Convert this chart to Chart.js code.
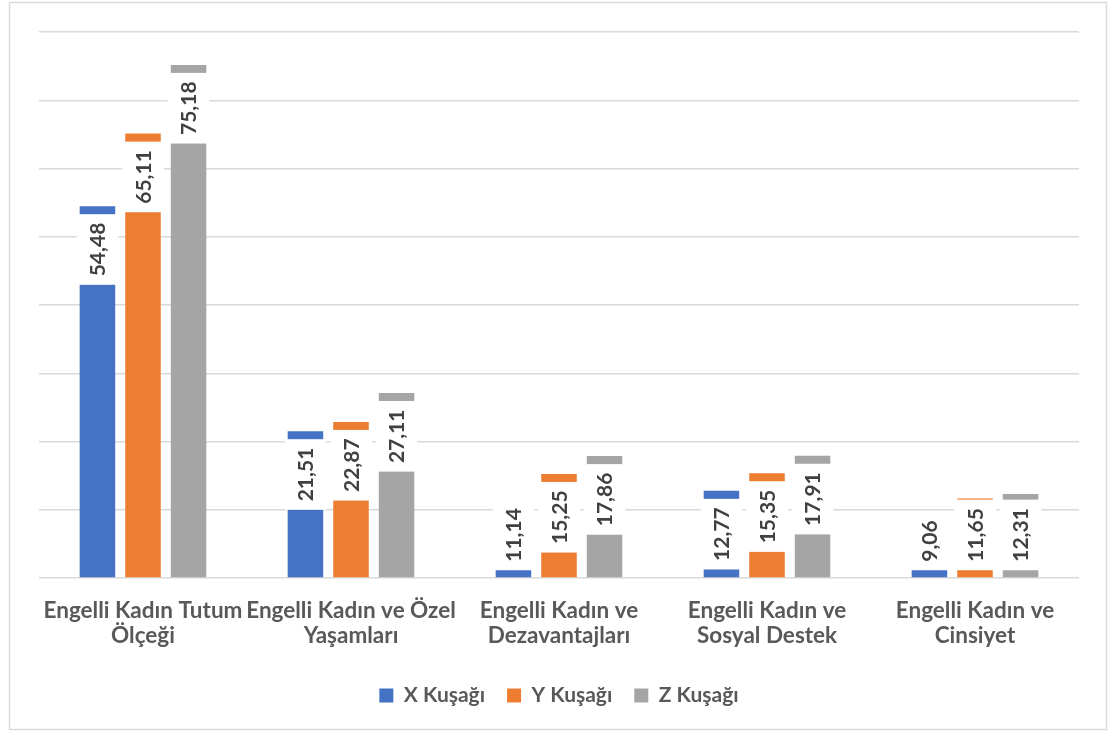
<!DOCTYPE html>
<html>
<head>
<meta charset="utf-8">
<script src="https://cdn.jsdelivr.net/npm/chart.js@4/dist/chart.umd.min.js"></script>
<style>
  html, body { margin: 0; padding: 0; background: #fff; }
  #wrap { width: 1110px; height: 731px; }
</style>
</head>
<body>
<div id="wrap"><canvas id="chart"></canvas></div>
<script>
// Veriler
const kategoriler = [
    ['Engelli Kadın Tutum', 'Ölçeği'],
    ['Engelli Kadın ve Özel', 'Yaşamları'],
    ['Engelli Kadın ve', 'Dezavantajları'],
    ['Engelli Kadın ve', 'Sosyal Destek'],
    ['Engelli Kadın ve', 'Cinsiyet']
];
const xKusagi = [54.48, 21.51, 11.14, 12.77, 9.06];
const yKusagi = [65.11, 22.87, 15.25, 15.35, 11.65];
const zKusagi = [75.18, 27.11, 17.86, 17.91, 12.31];
const seriAdlari = ['X Kuşağı', 'Y Kuşağı', 'Z Kuşağı'];
const renkler = ['#4472C4', '#ED7D31', '#A5A5A5'];

const FONT = 'Lato, "Open Sans", sans-serif';
const TEXT_COLOR = '#595959';

// Çerçeve ve beyaz arka plan
const cerceve = {
    id: 'cerceve',
    beforeDraw(chart) {
        const ctx = chart.ctx;
        ctx.save();
        ctx.fillStyle = '#fff';
        ctx.fillRect(0, 0, chart.width, chart.height);
        ctx.strokeStyle = '#D9D9D9';
        ctx.lineWidth = 1.5;
        ctx.strokeRect(9.5, 2.5, 1097, 727);
        ctx.restore();
    }
};

// Excel tarzı "iç uç" etiketleri: beyaz kutu içinde dikey yazı
const etiketler = {
    id: 'etiketler',
    afterDatasetsDraw(chart) {
        const ctx = chart.ctx;
        ctx.save();
        ctx.font = 'bold 21px ' + FONT;
        chart.data.datasets.forEach((ds, i) => {
            const meta = chart.getDatasetMeta(i);
            meta.data.forEach((bar, j) => {
                const { x, y, base, width } = bar.getProps(['x', 'y', 'base', 'width'], true);
                const text = ds.data[j].toFixed(2).replace('.', ',');
                const len = ctx.measureText(text).width + 17;
                let top = y + 8;
                let bottom = top + len;
                if (bottom > base - 7) {
                    bottom = base - 7;
                    top = bottom - len;
                }
                ctx.fillStyle = '#fff';
                ctx.fillRect(x - width / 2 - 3, top, width + 6, len);
                ctx.save();
                ctx.translate(x, (top + bottom) / 2);
                ctx.rotate(-Math.PI / 2);
                ctx.fillStyle = '#404040';
                ctx.textAlign = 'center';
                ctx.textBaseline = 'middle';
                ctx.fillText(text, 0, 1);
                ctx.restore();
            });
        });
        ctx.restore();
    }
};

const veriSetleri = [xKusagi, yKusagi, zKusagi].map((d, i) => ({
    label: seriAdlari[i],
    data: d,
    backgroundColor: renkler[i],
    borderWidth: 0,
    categoryPercentage: 0.657,
    barPercentage: 0.78
}));

new Chart(document.getElementById('chart'), {
    type: 'bar',
    data: { labels: kategoriler, datasets: veriSetleri },
    options: {
        responsive: true,
        maintainAspectRatio: false,
        animation: false,
        layout: { padding: { left: 39, right: 31, top: 32, bottom: 15 } },
        plugins: {
            tooltip: { enabled: false },
            legend: {
                position: 'bottom',
                labels: {
                    color: TEXT_COLOR,
                    font: { family: FONT, size: 21, weight: 'bold' },
                    boxWidth: 14,
                    boxHeight: 14,
                    padding: 22
                }
            }
        },
        scales: {
            x: {
                grid: { display: false },
                border: { display: false },
                ticks: {
                    color: TEXT_COLOR,
                    font: { family: FONT, size: 22.5, weight: 'bold', lineHeight: 1.12 },
                    maxRotation: 0,
                    autoSkip: false,
                    padding: 12
                },
                afterFit(s) { s.height = 85; }
            },
            y: {
                min: 0,
                max: 80,
                ticks: { display: false, stepSize: 10 },
                grid: { color: '#D9D9D9', lineWidth: 1.5, drawTicks: false },
                border: { display: false },
                afterFit(s) { s.width = 0; }
            }
        }
    },
    plugins: [cerceve, etiketler]
});
</script>
</body>
</html>
